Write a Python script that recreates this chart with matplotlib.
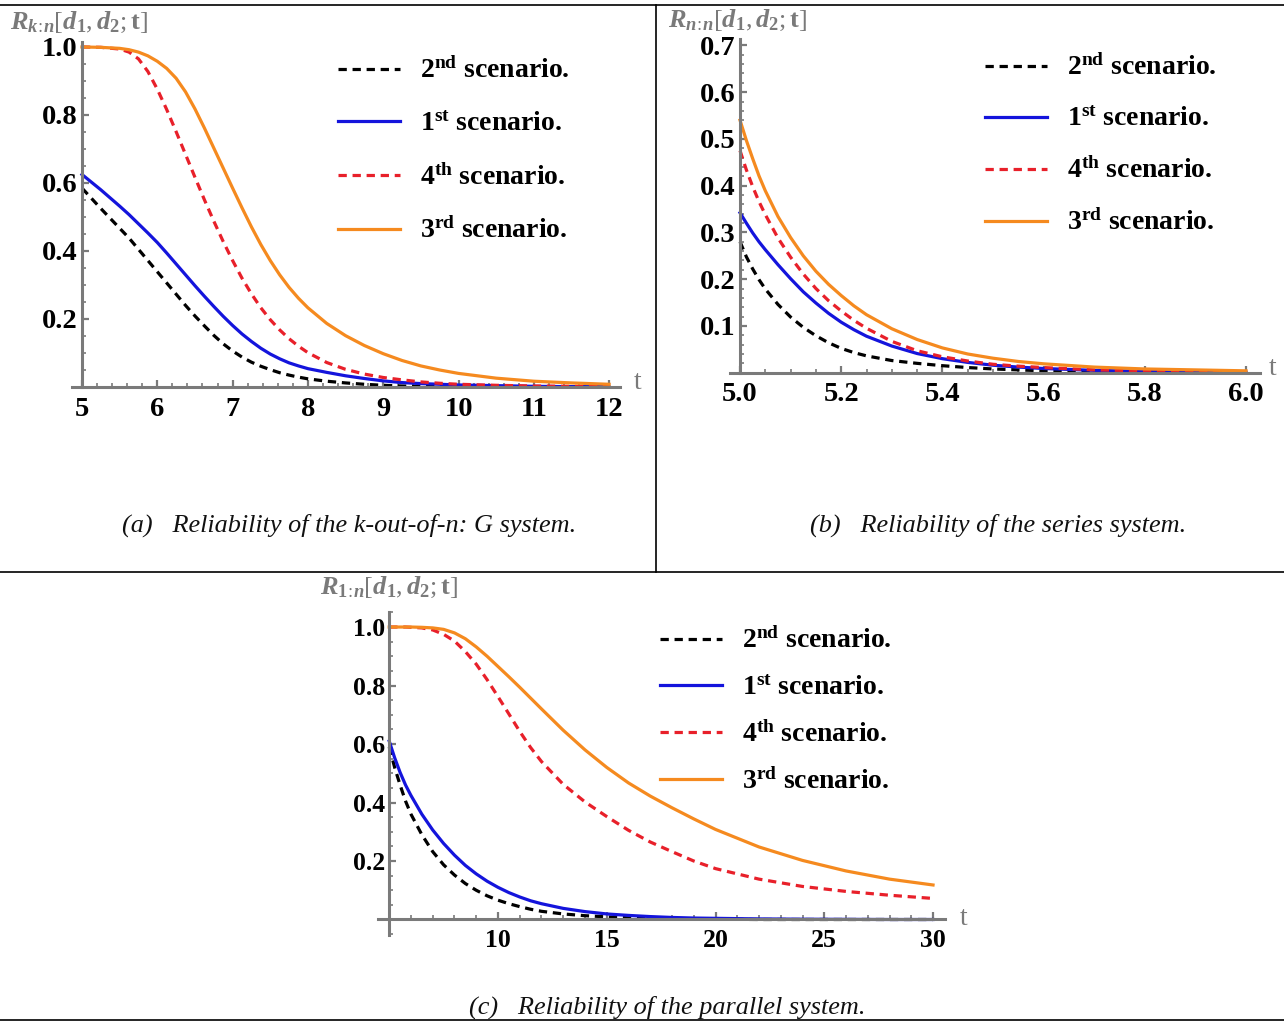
import matplotlib
matplotlib.use('Agg')
import matplotlib.pyplot as plt
from matplotlib.lines import Line2D
from matplotlib.ticker import MultipleLocator, FixedLocator, FormatStrFormatter

plt.rcParams['font.family'] = ['Liberation Serif', 'DejaVu Serif']
plt.rcParams['mathtext.fontset'] = 'custom'
plt.rcParams['mathtext.rm'] = 'Liberation Serif'
plt.rcParams['mathtext.it'] = 'Liberation Serif:italic'
plt.rcParams['mathtext.bf'] = 'Liberation Serif:bold'
plt.rcParams['mathtext.bfit'] = 'Liberation Serif:italic:bold'

# ---------------- data ----------------
scenario_num = ['2', '1', '4', '3']
scenario_sup = ['nd', 'st', 'th', 'rd']

# (a) k-out-of-n: G system
a_t = [5, 5.25, 5.5, 5.625, 5.75, 5.875, 6,
       6.125, 6.25, 6.375, 6.5, 6.625, 6.75, 6.875, 7,
       7.125, 7.25, 7.375, 7.5, 7.625, 7.75, 7.875, 8,
       8.25, 8.5, 8.75, 9, 9.25, 9.5, 9.75, 10,
       10.5, 11, 11.5, 12]
a_second = [0.585, 0.525, 0.467, 0.438, 0.405, 0.372, 0.339,
            0.306, 0.273, 0.24, 0.209, 0.18, 0.152, 0.127, 0.106,
            0.088, 0.073, 0.061, 0.051, 0.042, 0.035, 0.029, 0.024,
            0.017, 0.012, 0.008, 0.005, 0.003, 0.002, 0.001, 0.001,
            0.0, 0.0, 0.0, 0.0]
a_first = [0.625, 0.58, 0.532, 0.507, 0.48, 0.453, 0.425,
           0.394, 0.362, 0.33, 0.298, 0.267, 0.237, 0.208, 0.181,
           0.156, 0.134, 0.114, 0.097, 0.083, 0.071, 0.062, 0.054,
           0.043, 0.033, 0.025, 0.018, 0.013, 0.01, 0.008, 0.006,
           0.004, 0.002, 0.001, 0.0]
a_fourth = [1.0, 0.999, 0.994, 0.985, 0.965, 0.928, 0.876,
            0.816, 0.751, 0.684, 0.617, 0.551, 0.488, 0.428, 0.372,
            0.32, 0.274, 0.233, 0.198, 0.168, 0.142, 0.12, 0.101,
            0.072, 0.052, 0.038, 0.028, 0.021, 0.015, 0.011, 0.008,
            0.005, 0.003, 0.002, 0.001]
a_third = [1.0, 0.999, 0.996, 0.992, 0.985, 0.974, 0.958,
           0.937, 0.908, 0.868, 0.818, 0.762, 0.703, 0.644, 0.585,
           0.527, 0.471, 0.419, 0.372, 0.33, 0.293, 0.261, 0.233,
           0.187, 0.151, 0.122, 0.098, 0.078, 0.062, 0.05, 0.04,
           0.026, 0.017, 0.012, 0.008]

# (b) series system
b_t = [5.0, 5.0125, 5.025, 5.0375, 5.05, 5.075, 5.1, 5.125, 5.15, 5.175,
       5.2, 5.225, 5.25, 5.3, 5.35, 5.4, 5.45, 5.5, 5.55, 5.6, 5.7, 5.8,
       5.9, 6.0]
b_second = [0.28, 0.248, 0.222, 0.199, 0.179, 0.146, 0.119, 0.097, 0.079,
            0.064, 0.052, 0.043, 0.036, 0.026, 0.02, 0.015, 0.011, 0.008,
            0.006, 0.004, 0.002, 0.001, 0.0, 0.0]
b_first = [0.342, 0.32, 0.299, 0.28, 0.263, 0.231, 0.201, 0.173, 0.149,
           0.127, 0.108, 0.092, 0.078, 0.057, 0.041, 0.03, 0.022, 0.016,
           0.012, 0.009, 0.005, 0.003, 0.002, 0.001]
b_fourth = [0.475, 0.434, 0.398, 0.366, 0.338, 0.288, 0.247, 0.211, 0.18,
            0.154, 0.132, 0.112, 0.095, 0.067, 0.047, 0.034, 0.025, 0.018,
            0.014, 0.011, 0.006, 0.004, 0.002, 0.001]
b_third = [0.54, 0.497, 0.458, 0.421, 0.389, 0.334, 0.289, 0.25, 0.217,
           0.189, 0.165, 0.143, 0.124, 0.094, 0.071, 0.053, 0.04, 0.031,
           0.024, 0.019, 0.012, 0.008, 0.006, 0.004]

# (c) parallel system
c_t = [5, 5.25, 5.5, 5.75, 6, 6.5, 7, 7.5, 8, 8.5, 9, 9.5, 10, 10.5, 11,
       11.5, 12, 13, 14, 15, 16, 17, 18, 19, 20, 22, 24, 26, 28, 30]
c_second = [0.59, 0.52, 0.46, 0.405, 0.36, 0.29, 0.232, 0.187, 0.152, 0.123,
            0.1, 0.081, 0.066, 0.054, 0.044, 0.035, 0.028, 0.019, 0.013,
            0.009, 0.006, 0.004, 0.003, 0.002, 0.001, 0.0, 0.0, 0.0, 0.0, 0.0]
c_first = [0.61, 0.553, 0.503, 0.46, 0.424, 0.36, 0.306, 0.26, 0.22, 0.185,
           0.156, 0.131, 0.11, 0.092, 0.077, 0.064, 0.054, 0.038, 0.027,
           0.019, 0.014, 0.01, 0.007, 0.005, 0.004, 0.002, 0.001, 0.0005,
           0.0, 0.0]
c_fourth = [1.0, 1.0, 1.0, 1.0, 0.999, 0.997, 0.99, 0.975, 0.952, 0.916,
            0.873, 0.82, 0.762, 0.703, 0.643, 0.588, 0.54, 0.462, 0.402,
            0.352, 0.305, 0.265, 0.232, 0.2, 0.174, 0.138, 0.113, 0.096,
            0.083, 0.072]
c_third = [1.0, 1.0, 1.0, 1.0, 1.0, 0.999, 0.997, 0.992, 0.98, 0.96, 0.932,
           0.9, 0.865, 0.83, 0.794, 0.757, 0.72, 0.647, 0.58, 0.52, 0.467,
           0.422, 0.382, 0.344, 0.308, 0.248, 0.202, 0.166, 0.138, 0.118]

a_xticks = [5, 6, 7, 8, 9, 10, 11, 12]
a_yticks = [0.2, 0.4, 0.6, 0.8, 1.0]
b_xticks = [5.0, 5.2, 5.4, 5.6, 5.8, 6.0]
b_yticks = [0.1, 0.2, 0.3, 0.4, 0.5, 0.6, 0.7]
c_xticks = [10, 15, 20, 25, 30]
c_yticks = [0.2, 0.4, 0.6, 0.8, 1.0]

captions = ['(a)   Reliability of the k-out-of-n: G system.',
            '(b)   Reliability of the series system.',
            '(c)   Reliability of the parallel system.']
ylabels = [r'$\mathbfit{R}_{\mathbfit{k}\!:\!\mathbfit{n}}[\mathbfit{d}_{\mathbf{1}},\mathbfit{d}_{\mathbf{2}};\mathbf{t}]$',
           r'$\mathbfit{R}_{\mathbfit{n}\!:\!\mathbfit{n}}[\mathbfit{d}_{\mathbf{1}},\mathbfit{d}_{\mathbf{2}};\mathbf{t}]$',
           r'$\mathbfit{R}_{\mathbf{1}\!:\!\mathbfit{n}}[\mathbfit{d}_{\mathbf{1}},\mathbfit{d}_{\mathbf{2}};\mathbf{t}]$']

# ---------------- figure ----------------
W, H = 1284, 1022
fig = plt.figure(figsize=(W / 100, H / 100), dpi=100)
fig.patch.set_facecolor('white')

AX_GRAY = '#7a7a7a'
styles = [dict(color='black', ls=(0, (2.6, 1.8))),
          dict(color='#1414dc', ls='-'),
          dict(color='#e8202a', ls=(0, (2.6, 1.8))),
          dict(color='#f58a1f', ls='-')]
LW = 2.3
LEGFS = 20


def make_axes(l, t, r, b):
    return fig.add_axes([l / W, 1 - b / H, (r - l) / W, (b - t) / H])


def style_axes(ax, xlim, ylim, x0, xticks, yticks, xfmt, xminor, yminor, fs):
    ax.set_xlim(*xlim)
    ax.set_ylim(*ylim)
    ax.patch.set_visible(False)
    for s in ['top', 'right']:
        ax.spines[s].set_visible(False)
    ax.spines['left'].set_position(('data', x0))
    ax.spines['bottom'].set_position(('data', 0))
    for s in ['left', 'bottom']:
        ax.spines[s].set_color(AX_GRAY)
        ax.spines[s].set_linewidth(2.2)
    ax.xaxis.set_major_locator(FixedLocator(xticks))
    ax.yaxis.set_major_locator(FixedLocator(yticks))
    ax.xaxis.set_major_formatter(FormatStrFormatter(xfmt))
    ax.yaxis.set_major_formatter(FormatStrFormatter('%.1f'))
    ax.xaxis.set_minor_locator(MultipleLocator(xminor))
    ax.yaxis.set_minor_locator(MultipleLocator(yminor))
    ax.tick_params(which='both', direction='in', color=AX_GRAY)
    ax.tick_params(which='major', length=5, width=1.6, labelsize=fs)
    ax.tick_params(which='minor', length=3, width=1.2)
    ax.tick_params(axis='x', which='major', pad=7)
    ax.tick_params(axis='y', which='major', pad=3)
    for lab in ax.get_xticklabels() + ax.get_yticklabels():
        lab.set_fontweight('bold')


def plot_panel(ax, t, series):
    handles = []
    for y, st, n, s in zip(series, styles, scenario_num, scenario_sup):
        h, = ax.plot(t, y, color=st['color'], ls=st['ls'], lw=LW,
                     clip_on=False, solid_joinstyle='round',
                     label=r'$\mathbf{%s}^{\mathbf{%s}}$ scenario.' % (n, s))
        handles.append(h)
    return handles


def add_legend(ax, handles, x, y, spacing):
    leg = ax.legend(handles=handles, loc='upper left',
                    bbox_to_anchor=(x / W, 1 - y / H),
                    bbox_transform=fig.transFigure, frameon=False,
                    borderpad=0, borderaxespad=0, handlelength=2.23,
                    handletextpad=0.72, labelspacing=spacing,
                    prop=dict(family='Liberation Serif', weight='bold',
                              size=LEGFS))
    return leg


# panel (a)
axa = make_axes(72.2, 42.0, 620.4, 387.0)
style_axes(axa, (4.87, 12.15), (0, 1.0147), 5, a_xticks, a_yticks, '%d', 0.2,
           0.05, 20.5)
ha = plot_panel(axa, a_t, [a_second, a_first, a_fourth, a_third])
add_legend(axa, ha, 338, 58, 0.98)
axa.text(12.38, 0.012, 't', fontsize=20, color=AX_GRAY, ha='center',
         va='center', clip_on=False)

# panel (b)
axb = make_axes(729.9, 39.0, 1260.2, 372.7)
style_axes(axb, (4.98, 6.028), (0, 0.7137), 5.0, b_xticks, b_yticks, '%.1f',
           0.05, 0.02, 20.5)
hb = plot_panel(axb, b_t, [b_second, b_first, b_fourth, b_third])
add_legend(axb, hb, 985, 55, 0.92)
axb.text(6.053, 0.009, 't', fontsize=20, color=AX_GRAY, ha='center',
         va='center', clip_on=False)

# panel (c)
axc = make_axes(377.9, 612.4, 945.0, 935.0)
style_axes(axc, (4.48, 30.55), (-0.053, 1.05), 5, c_xticks, c_yticks, '%d', 1,
           0.05, 18.5)
hc = plot_panel(axc, c_t, [c_second, c_first, c_fourth, c_third])
add_legend(axc, hc, 660, 628, 0.75)
axc.text(31.4, 0.005, 't', fontsize=20, color=AX_GRAY, ha='center',
         va='center', clip_on=False)

# y labels
for (x, y), lab in zip([(10, 22), (668, 20), (320, 587)], ylabels):
    fig.text(x / W, 1 - y / H, lab, fontsize=19, color=AX_GRAY, ha='left',
             va='center')

# captions
for (x, y), cap in zip([(349, 525), (998, 525), (667, 1007)], captions):
    fig.text(x / W, 1 - y / H, cap, fontsize=18.9, style='italic',
             ha='center', va='center', color='#111111')

# frame lines
frame = [((0, W), (5, 5)), ((656, 656), (5, 572)), ((0, W), (572, 572)),
         ((0, W), (1020, 1020))]
for xs, ys in frame:
    fig.add_artist(Line2D([xs[0] / W, xs[1] / W], [1 - ys[0] / H, 1 - ys[1] / H],
                          transform=fig.transFigure, color='black', lw=1.2))

fig.savefig('out.png', dpi=100)
